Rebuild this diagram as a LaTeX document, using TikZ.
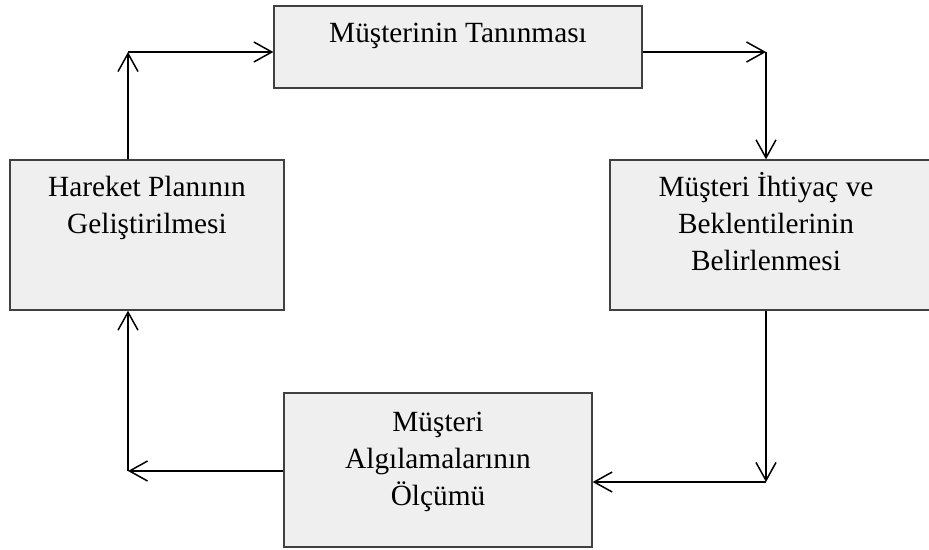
\documentclass[tikz,border=0pt]{standalone}
\usepackage{fontspec}
\setmainfont{Liberation Serif}
\usetikzlibrary{positioning,arrows.meta}
\definecolor{boxfill}{HTML}{EFEFEF}
\definecolor{boxline}{HTML}{404040}
\begin{document}
\begin{tikzpicture}[x=1pt,y=-1pt]

        \useasboundingbox (0,0) rectangle (929,549);

        \begin{scope}[every node/.style={rectangle,draw=boxline,fill=boxfill,line width=1.3pt,inner sep=0pt}]
          \node[minimum width=368pt,minimum height=82pt]  (tan)  at (458,47)  {};
          \node[minimum width=322pt,minimum height=150pt] (need) at (771,235) {};
          \node[minimum width=308pt,minimum height=154pt] (meas) at (438,470) {};
          \node[minimum width=274pt,minimum height=150pt] (plan) at (147,235) {};
        \end{scope}

        \begin{scope}[every node/.style={align=center,inner sep=0pt,font=\fontsize{29.3}{37}\selectfont}]
          \node[below=17.6pt of tan.north]             (tantext)  {Müşterinin Tanınması};
          \node[below=12.7pt of need.north,xshift=-5pt] (needtext) {Müşteri İhtiyaç ve\\Beklentilerinin\\Belirlenmesi};
          \node[below=19.6pt of meas.north]            (meastext) {Müşteri\\Algılamalarının\\Ölçümü};
          \node[below=17pt of plan.north]              (plantext) {Hareket Planının\\Geliştirilmesi};
        \end{scope}

        \coordinate (c1) at (128,52);
        \coordinate (c2) at (766,52);
        \coordinate (c3) at (766,482);
        \coordinate (c4) at (128,471);

        \begin{scope}[every edge/.style={draw,line width=1.5pt,-{Straight Barb[length=18pt,width=20pt]}}]
          \path (plan.north -| c1) edge (c1);
          \path (c1) edge (c1 -| tan.west);
          \path (c2 -| tan.east) edge (c2);
          \path (c2) edge (c2 |- need.north);
          \path (c2 |- need.south) edge (c3);
          \path (c3) edge (c3 -| meas.east);
          \path (c4 -| meas.west) edge (c4);
          \path (c4) edge (c4 |- plan.south);
        \end{scope}

      \end{tikzpicture}
\end{document}
